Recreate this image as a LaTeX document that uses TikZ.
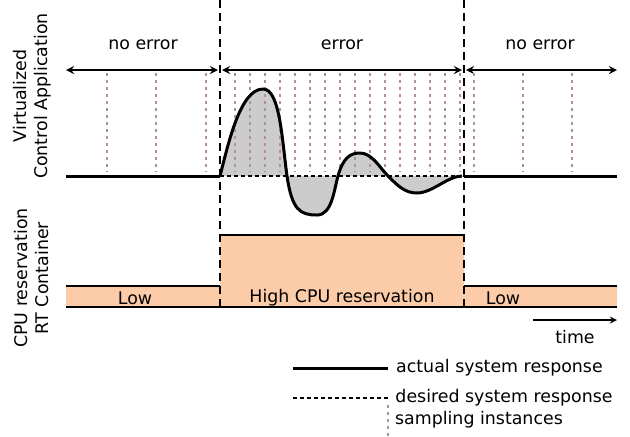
\documentclass[tikz,border=0pt]{standalone}
\usepackage{fontspec}
\setmainfont{DejaVu Sans}
\definecolor{peach}{RGB}{252,204,168}
\definecolor{sampcol}{RGB}{180,145,145}
\begin{document}
\begin{tikzpicture}[x=0.5pt,y=-0.5pt,font=\fontsize{8.7}{10.5}\selectfont,line join=round,>=stealth,
	resp/.style={line width=1.5pt},
	desired/.style={line width=0.8pt,dash pattern=on 2pt off 1.5pt},
	samp/.style={sampcol,line width=0.6pt,dash pattern=on 1.5pt off 2pt},
	border/.style={line width=1pt,dash pattern=on 4pt off 2.5pt},
	span/.style={<->,line width=0.8pt},
	cpu/.style={line width=1.2pt}]
	\useasboundingbox (0,0) rectangle (630,436);
	\def\respcurve{(220,176) .. controls (228,145) and (240,89) .. (263,89) .. controls (280,89) and (282,140) .. (287,176) .. controls (292,210) and (300,215) .. (317,215) .. controls (332,215) and (334,190) .. (338,176) .. controls (343,158) and (350,153) .. (360,153) .. controls (372,153) and (380,168) .. (388,176) .. controls (398,186) and (405,193) .. (417,193) .. controls (432,193) and (448,176) .. (462,176)}
	\node[rotate=90,align=center] (lblapp) at (32,96) {Virtualized\\Control Application};
	\node[rotate=90,align=center] (lblcpu) at (32,278) {CPU reservation\\RT Container};
	\node (noerr1) at (143,45) {no error};
	\node (err) at (342,45) {error};
	\node (noerr2) at (540,45) {no error};
	\draw[span] (66,70)--(218,70);
	\draw[span] (222,70)--(462,70);
	\draw[span] (466,70)--(617,70);
	\fill[gray!40] \respcurve -- cycle;
	\foreach \x in {107,156,206,474,523,572} \draw[samp] (\x,73)--(\x,172);
	\foreach \x in {235,250,...,460} \draw[samp] (\x,73)--(\x,172);
	\draw[desired] (220,176)--(464,176);
	\draw[resp] (66,176)--(220,176) (464,176)--(617,176);
	\draw[resp] \respcurve;
	\fill[peach] (66,286) rectangle (220,307) (220,235) rectangle (464,307) (464,286) rectangle (617,307);
	\draw[cpu] (66,286)--(220,286) (220,235)--(464,235) (464,286)--(617,286) (66,307)--(617,307);
	\node (low1) at (135,298) {Low};
	\node (high) at (342,298) {High CPU reservation};
	\node (low2) at (503,298) {Low};
	\draw[border] (220,0)--(220,307) (464,0)--(464,307);
	\draw[->,line width=0.6pt] (533,320)--(617,320);
	\node (time) at (575,337) {time};
	\draw[resp] (293,368)--(388,368) node[right] (lgact) {actual system response};
	\draw[desired] (293,398)--(388,398) node[right] (lgdes) {desired system response};
	\draw[samp] (388,405)--(388,436);
	\node[anchor=west] (lgsamp) at (388,420) {sampling instances};
\end{tikzpicture}
\end{document}
